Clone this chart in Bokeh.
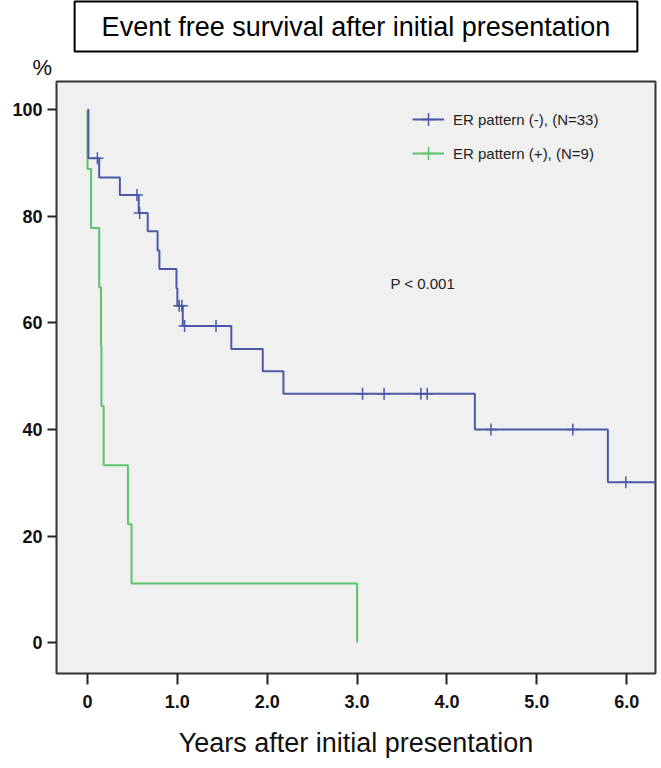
import math
from bokeh.plotting import figure
from bokeh.models import Range1d, FixedTicker, Legend, LegendItem, Label, Title
from bokeh.embed import file_html
from bokeh.resources import INLINE

# ---- data ----
x_ticks = [0, 1, 2, 3, 4, 5, 6]
x_tick_labels = ["0", "1.0", "2.0", "3.0", "4.0", "5.0", "6.0"]
y_ticks = [0, 20, 40, 60, 80, 100]
y_tick_labels = ["0", "20", "40", "60", "80", "100"]

# ER pattern (-), N=33 : step points (time in years, survival %)
blue_times = [0.0, 0.01, 0.13, 0.36, 0.57, 0.67, 0.78, 0.80, 0.99, 1.00, 1.06, 1.60, 1.95, 2.18, 4.31, 5.79, 6.40]
blue_surv = [100.0, 90.9, 87.3, 84.0, 80.6, 77.2, 73.6, 70.1, 66.5, 63.2, 59.4, 55.1, 50.9, 46.7, 40.0, 30.1, 30.1]
blue_cens_times = [0.11, 0.55, 0.58, 1.02, 1.05, 1.08, 1.43, 3.06, 3.30, 3.71, 3.78, 4.49, 5.40, 5.99]
blue_cens_surv = [90.9, 84.0, 80.6, 63.2, 63.2, 59.4, 59.4, 46.7, 46.7, 46.7, 46.7, 40.0, 40.0, 30.1]

# ER pattern (+), N=9 (no censored cases shown)
green_times = [0.0, 0.0, 0.04, 0.13, 0.15, 0.155, 0.18, 0.45, 0.49, 3.0]
green_surv = [100.0, 88.9, 77.8, 66.7, 55.6, 44.4, 33.3, 22.2, 11.1, 0.0]

BLUE = "#4a58a8"
GREEN = "#5cc46a"
FONT = "Liberation Sans"

p = figure(width=661, height=768, output_backend="svg", toolbar_location=None,
           x_range=Range1d(-0.345, 6.32), y_range=Range1d(-5.8, 105.3),
           min_border_left=56, min_border_right=6, min_border_top=81, min_border_bottom=95,
           background_fill_color="#f0f0f0", border_fill_color="white")

# "%" unit label, above the top-left corner of the frame
p.add_layout(Title(text="%", align="left", offset=-24, vertical_align="top", standoff=0,
                   text_line_height=0.6,
                   text_font=FONT, text_font_size="22px", text_font_style="normal",
                   text_color="#111111"), "above")

p.title = Title(text="Event free survival after initial presentation", align="center",
                vertical_align="top",
                text_font=FONT, text_font_size="27px", text_font_style="normal",
                text_color="black", border_line_color="black", border_line_width=2,
                background_fill_color="white", padding=(27, 10), standoff=2)

p.grid.visible = False
p.outline_line_color = "#333333"
p.outline_line_width = 2

for ax in (p.xaxis[0], p.yaxis[0]):
    ax.axis_line_color = None
    ax.major_tick_in = 0
    ax.minor_tick_line_color = None
    ax.major_tick_line_color = "#222222"
    ax.major_tick_line_width = 2
    ax.major_label_text_font = FONT
    ax.major_label_text_font_size = "18px"
    ax.major_label_text_font_style = "bold"
    ax.major_label_text_color = "#111111"

p.xaxis.ticker = FixedTicker(ticks=x_ticks)
p.xaxis.major_label_overrides = dict(zip(x_ticks, x_tick_labels))
p.xaxis.major_tick_out = 11
p.xaxis.major_label_standoff = 10
p.xaxis.axis_label = "Years after initial presentation"
p.xaxis.axis_label_text_font = FONT
p.xaxis.axis_label_text_font_size = "27px"
p.xaxis.axis_label_text_font_style = "normal"
p.xaxis.axis_label_text_color = "#111111"
p.xaxis.axis_label_standoff = 17

p.yaxis.ticker = FixedTicker(ticks=y_ticks)
p.yaxis.major_label_overrides = dict(zip(y_ticks, y_tick_labels))
p.yaxis.major_tick_out = 9
p.yaxis.major_label_standoff = 5

gl = p.step(green_times, green_surv, mode="after", line_color=GREEN, line_width=2)
# green group has no censor marks: zero-size crosses, so only the legend shows the symbol
gc = p.scatter(green_times, green_surv, marker="cross", size=0,
               line_color=GREEN, line_width=1.5)
bl = p.step(blue_times, blue_surv, mode="after", line_color=BLUE, line_width=2)
bc = p.scatter(blue_cens_times, blue_cens_surv, marker="cross", size=12,
               line_color=BLUE, line_width=1.5)

legend = Legend(items=[LegendItem(label="ER pattern (-), (N=33)", renderers=[bl, bc]),
                       LegendItem(label="ER pattern (+), (N=9)", renderers=[gl, gc])],
                location=(356, 503), padding=0, margin=0, spacing=0,
                glyph_width=32, glyph_height=34, label_standoff=9,
                background_fill_alpha=0, border_line_color=None,
                label_text_font=FONT, label_text_font_size="15px", label_text_color="#222222")
p.add_layout(legend)

p.add_layout(Label(x=3.73, y=67.4, text="P < 0.001", text_align="center", text_baseline="middle",
                   text_font=FONT, text_font_size="15px", text_color="#222222"))

open("out.html", "w").write(file_html(p, INLINE))
